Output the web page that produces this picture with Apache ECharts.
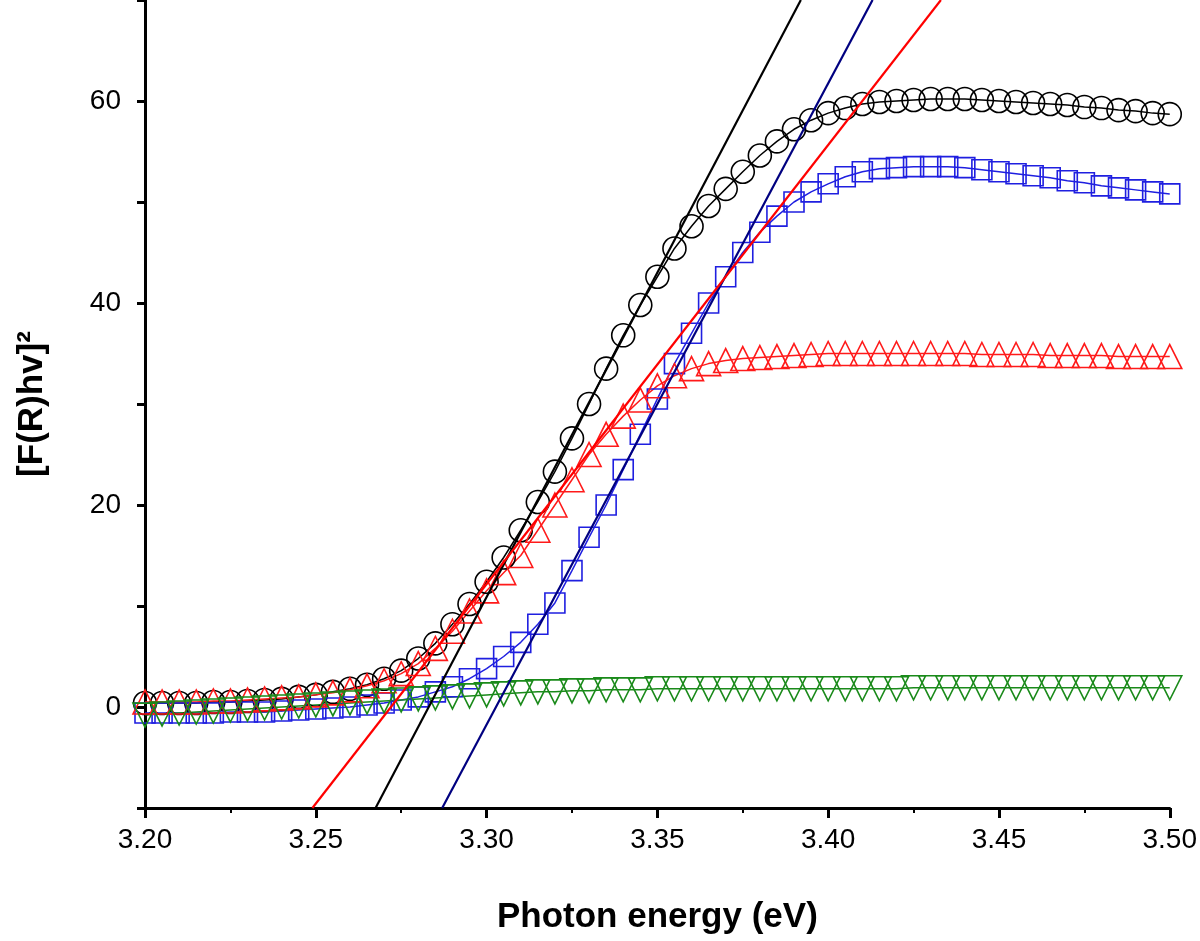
<!DOCTYPE html>
<html>
<head>
<meta charset="utf-8">
<script src="https://cdn.jsdelivr.net/npm/echarts@6/dist/echarts.min.js"></script>
<style>html,body{margin:0;padding:0;background:#fff}#chart{width:1200px;height:941px}</style>
</head>
<body>
<div id="chart"></div>
<script>
// photon energy, 3.200 .. 3.500 step 0.005
const energy = [3.200,3.205,3.210,3.215,3.220,3.225,3.230,3.235,3.240,3.245,3.250,3.255,3.260,3.265,3.270,3.275,3.280,3.285,3.290,3.295,3.300,3.305,3.310,3.315,3.320,3.325,3.330,3.335,3.340,3.345,3.350,3.355,3.360,3.365,3.370,3.375,3.380,3.385,3.390,3.395,3.400,3.405,3.410,3.415,3.420,3.425,3.430,3.435,3.440,3.445,3.450,3.455,3.460,3.465,3.470,3.475,3.480,3.485,3.490,3.495,3.500];
const circles = [0.4,0.4,0.4,0.4,0.5,0.5,0.6,0.7,0.8,1.0,1.2,1.5,1.8,2.2,2.8,3.6,4.8,6.3,8.2,10.2,12.4,14.8,17.5,20.3,23.3,26.6,30.0,33.5,36.8,39.8,42.6,45.4,47.6,49.6,51.3,53.0,54.6,56.0,57.2,58.1,58.8,59.3,59.7,59.9,60.0,60.1,60.2,60.2,60.2,60.1,60.0,59.9,59.8,59.7,59.6,59.4,59.3,59.1,59.0,58.8,58.7];
const squares = [-0.6,-0.6,-0.6,-0.6,-0.6,-0.5,-0.5,-0.5,-0.4,-0.3,-0.2,-0.1,0.0,0.2,0.4,0.7,1.0,1.5,2.0,2.8,3.8,5.0,6.4,8.2,10.3,13.5,16.8,20.0,23.5,27.0,30.5,34.0,37.0,40.0,42.6,45.0,47.0,48.6,50.0,51.0,51.8,52.5,53.0,53.3,53.4,53.5,53.5,53.5,53.4,53.2,53.0,52.8,52.6,52.4,52.1,51.9,51.6,51.4,51.2,51.0,50.8];
const trianglesUp = [0.5,0.5,0.5,0.5,0.6,0.6,0.7,0.8,0.9,1.0,1.2,1.4,1.7,2.1,2.6,3.3,4.3,5.8,7.5,9.5,11.5,13.3,15.0,17.5,20.0,22.5,25.0,27.0,28.8,30.4,31.8,32.8,33.5,34.0,34.3,34.5,34.6,34.7,34.8,34.9,35.0,35.0,35.0,35.0,35.0,35.0,35.0,35.0,35.0,34.9,34.9,34.9,34.9,34.8,34.8,34.8,34.8,34.7,34.7,34.7,34.7];
const trianglesDown = [-0.8,-0.7,-0.6,-0.5,-0.4,-0.3,-0.2,-0.1,0.0,0.1,0.2,0.3,0.4,0.5,0.6,0.7,0.8,0.9,1.0,1.1,1.2,1.3,1.4,1.5,1.5,1.6,1.6,1.7,1.7,1.7,1.8,1.8,1.8,1.8,1.8,1.8,1.8,1.8,1.8,1.8,1.8,1.8,1.8,1.8,1.8,1.9,1.9,1.9,1.9,1.9,1.9,1.9,1.9,1.9,1.9,1.9,1.9,1.9,1.9,1.9,1.9];
// linear fits: [x, y] end points
const fitBlack = [[3.2675, -10], [3.392, 70]];
const fitBlue = [[3.287, -10], [3.413, 70]];
const fitRed = [[3.249, -10], [3.433, 70]];

const pair = ys => energy.map((x, i) => [x, ys[i]]);
const font = 'Liberation Sans, Arial, sans-serif';

function markers(name, ys, color, symbol, rotate, size) {
    return {
        name: name, type: 'line', data: pair(ys), symbol: symbol, symbolSize: size,
        symbolRotate: rotate || 0, clip: false,
        itemStyle: {color: 'transparent', borderColor: color, borderWidth: 1.6},
        lineStyle: {color: color, width: 1.5}, z: 2
    };
}
function fit(data, color) {
    return {type: 'line', data: data, symbol: 'none', lineStyle: {color: color, width: 2.2}, z: 3};
}

let myChart = echarts.init(document.getElementById('chart'));
myChart.setOption({
    animation: false,
    grid: {left: 145, right: 22, top: 0, bottom: 133},
    xAxis: {
        type: 'value', min: 3.2, max: 3.5, interval: 0.05,
        name: 'Photon energy (eV)', nameLocation: 'middle', nameGap: 92,
        nameTextStyle: {fontSize: 35, fontWeight: 'bold', color: '#000', fontFamily: font},
        axisLine: {onZero: false, lineStyle: {color: '#000', width: 3}},
        axisTick: {length: 10, lineStyle: {width: 3, color: '#000'}},
        minorTick: {show: true, splitNumber: 2, length: 5, lineStyle: {width: 2, color: '#000'}},
        axisLabel: {fontSize: 28, color: '#000', fontFamily: font, margin: 18,
            formatter: v => v.toFixed(2)},
        splitLine: {show: false}
    },
    yAxis: {
        type: 'value', min: -10, max: 70, interval: 10,
        name: '[F(R)hv]²', nameLocation: 'middle', nameGap: 95,
        nameTextStyle: {fontSize: 35, fontWeight: 'bold', color: '#000', fontFamily: font},
        axisLine: {onZero: false, lineStyle: {color: '#000', width: 3}},
        axisTick: {length: 8, lineStyle: {width: 3, color: '#000'}},
        axisLabel: {fontSize: 28, color: '#000', fontFamily: font, margin: 24,
            formatter: v => (v >= 0 && Math.round(v) % 20 === 0) ? String(Math.round(v)) : ''},
        splitLine: {show: false}
    },
    series: [
        markers('circles', circles, '#000000', 'circle', 0, 23),
        markers('squares', squares, '#1f1fe0', 'rect', 0, 20),
        markers('up', trianglesUp, '#ff1a1a', 'triangle', 0, 24),
        markers('down', trianglesDown, '#1a8a1a', 'triangle', 180, 24),
        fit(fitBlack, '#000000'),
        fit(fitBlue, '#000080'),
        fit(fitRed, '#ff0000')
    ]
});
</script>
</body>
</html>
